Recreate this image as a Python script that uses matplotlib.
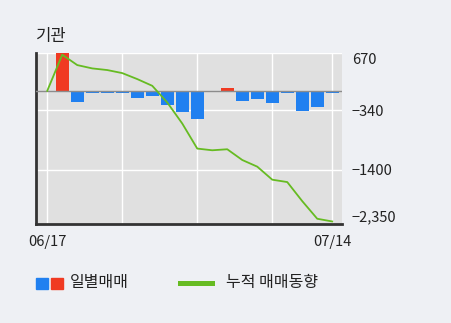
import matplotlib
matplotlib.use("Agg")
from matplotlib import pyplot as plt
from matplotlib.patches import Rectangle
from matplotlib.lines import Line2D
import matplotlib.transforms as mtransforms

plt.rcParams['font.family'] = ['Noto Sans CJK KR', 'DejaVu Sans']

# dnevni neto promet (index 0 = 06/17, index 19 = 07/14)
days = list(range(20))
daily = [0, 680, -195, -30, -30, -30, -130, -89, -249, -373,
         -497, 0, 47, -178, -148, -219, -30, -355, -284, -30]
cumulative = [0, 640, 456, 397, 368, 314, 208, 89, -206, -579,
              -1023, -1053, -1035, -1225, -1343, -1574, -1616, -1954, -2266, -2314]

y_ticks = [670, -340, -1400, -2350]
y_tick_labels = ["670", "\u2212340", "\u22121400", "\u22122,350"]
x_ticks = [0, 19]
x_tick_labels = ["06/17", "07/14"]
grid_x = [0, 5, 10, 15, 19]

title = "기관"
legend_bar = "일별매매"
legend_line = "누적 매매동향"

blue = "#2080f0"
red = "#f03a22"
green = "#66bb22"

fig = plt.figure(figsize=(4.51, 3.23), dpi=100)
fig.patch.set_facecolor("#eef0f4")
ax = fig.add_axes([36/451, 1 - 223.5/323, 306/451, 170.5/323])
ax.set_facecolor("#e0e0e0")

colors = [red if v > 0 else blue for v in daily]
ax.bar(days, daily, width=0.85, color=colors, zorder=2)
ax.axhline(0, color="#8c8c8c", lw=1.0, zorder=3)
ax.plot(days, cumulative, color=green, lw=1.3, zorder=4)

ax.set_ylim(-2350, 670)
ax.set_xlim(-0.75, 19.65)

for gx in grid_x:
    ax.axvline(gx, color="white", lw=1, zorder=1)
for gy in y_ticks:
    ax.axhline(gy, color="white", lw=1, zorder=1)

ax.set_yticks(y_ticks)
ax.set_yticklabels(y_tick_labels, fontsize=10.5, color="#222222")
ax.yaxis.tick_right()
ax.tick_params(axis='y', length=0, pad=7)
ax.set_xticks(x_ticks)
ax.set_xticklabels(x_tick_labels, fontsize=10.5, color="#222222")
ax.tick_params(axis='x', length=0, pad=8)

labels = ax.get_yticklabels()
labels[0].set_transform(labels[0].get_transform() +
                        mtransforms.ScaledTranslation(0, -5/100, fig.dpi_scale_trans))
labels[-1].set_transform(labels[-1].get_transform() +
                         mtransforms.ScaledTranslation(0, 8/100, fig.dpi_scale_trans))

for s in ["top", "right"]:
    ax.spines[s].set_visible(False)
for s in ["left", "bottom"]:
    ax.spines[s].set_color("#333333")
    ax.spines[s].set_linewidth(2)

fig.text(36/451, 1 - 37/323, title, fontsize=12, va="center", ha="left", color="#222222")

# legenda
fig.add_artist(Rectangle((36/451, 1 - 289/323), 11.5/451, 11.5/323,
                         transform=fig.transFigure, color=blue))
fig.add_artist(Rectangle((51/451, 1 - 289/323), 11.5/451, 11.5/323,
                         transform=fig.transFigure, color=red))
fig.text(70/451, 1 - 283/323, legend_bar, fontsize=11.5, va="center", ha="left", color="#222222")
fig.add_artist(Line2D([180/451, 212/451], [1 - 283/323, 1 - 283/323],
                      transform=fig.transFigure, color=green, lw=3.6))
fig.text(226/451, 1 - 283/323, legend_line, fontsize=11.5, va="center", ha="left", color="#222222")

fig.savefig("out.png", dpi=100, facecolor=fig.get_facecolor())
